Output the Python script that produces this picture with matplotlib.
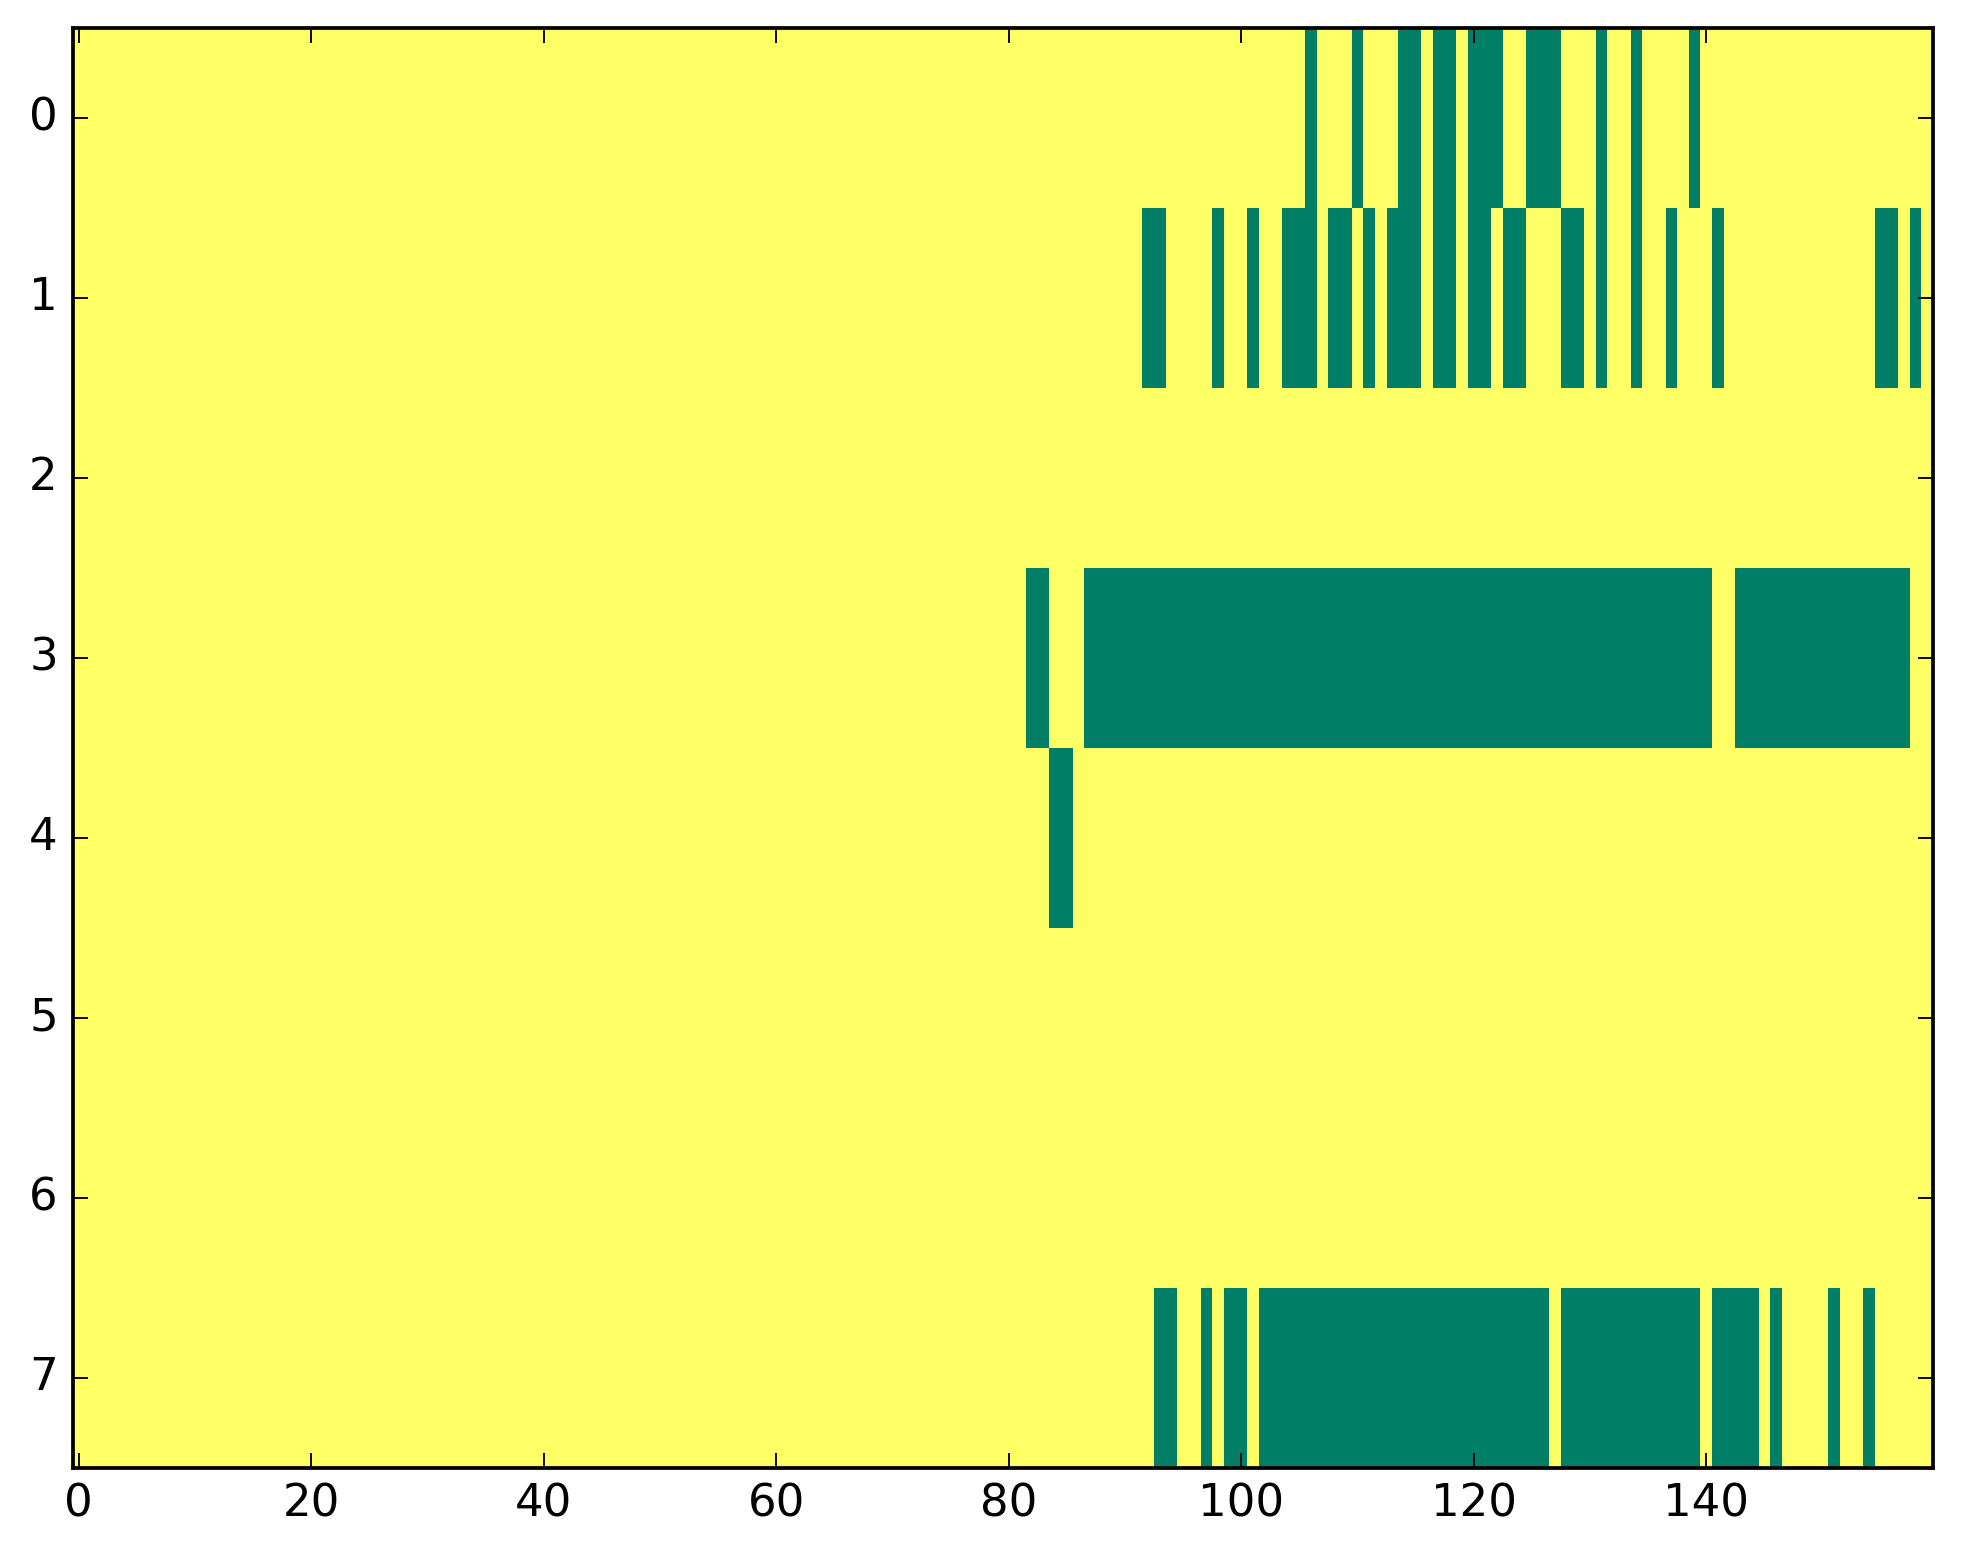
import numpy as np
import matplotlib
matplotlib.use("Agg")
import matplotlib.pyplot as plt

# Grid size
n_rows = 8
n_cols = 160

# Green (0) runs per row, inclusive column ranges; everything else is 1
row0_runs = [(106, 106), (110, 110), (114, 115), (117, 118), (120, 122),
             (125, 127), (131, 131), (134, 134), (139, 139)]
row1_runs = [(92, 93), (98, 98), (101, 101), (104, 106), (108, 109), (111, 111),
             (113, 115), (117, 118), (120, 121), (123, 124), (128, 129), (131, 131),
             (134, 134), (137, 137), (141, 141), (155, 156), (158, 158)]
row2_runs = []
row3_runs = [(82, 83), (87, 140), (143, 157)]
row4_runs = [(84, 85)]
row5_runs = []
row6_runs = []
row7_runs = [(93, 94), (97, 97), (99, 100), (102, 126), (128, 139), (141, 144),
             (146, 146), (151, 151), (154, 154)]

all_runs = [row0_runs, row1_runs, row2_runs, row3_runs,
            row4_runs, row5_runs, row6_runs, row7_runs]

grid = np.ones((n_rows, n_cols))
for r, runs in enumerate(all_runs):
    for a, b in runs:
        grid[r, a:b + 1] = 0

plt.style.use("classic")
dpi = 270
fig = plt.figure(figsize=(1963 / dpi, 1564 / dpi), dpi=dpi, facecolor="white")
ax = fig.add_axes([0.0371, 0.0614, 0.9475, 0.9207])
ax.imshow(grid, cmap="summer", aspect="auto", interpolation="nearest")
ax.set_xticks([0, 20, 40, 60, 80, 100, 120, 140])
ax.set_yticks(range(n_rows))

fig.savefig("out.png", dpi=dpi, facecolor="white")
